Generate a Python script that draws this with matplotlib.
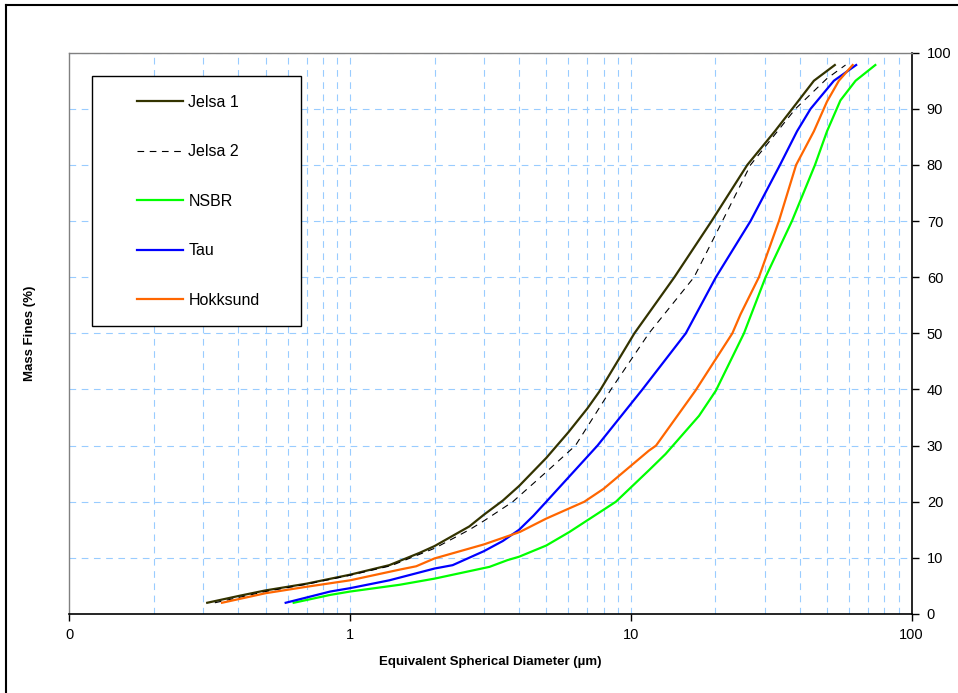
import matplotlib
matplotlib.use("Agg")
import matplotlib.pyplot as plt
from matplotlib.patches import Rectangle
from matplotlib.lines import Line2D
from matplotlib.ticker import FixedLocator, FixedFormatter, NullLocator

plt.rcParams['font.family'] = ['Liberation Sans', 'DejaVu Sans']

# particle size distributions (diameter in um, cumulative mass fines in %)
jelsa1_x = [0.31, 0.4, 0.5, 0.7, 1.0, 1.38, 1.77, 2.0, 2.66, 3.0, 3.5, 4.0, 5.0, 6.0,
            7.0, 7.72, 10.3, 14.3, 19.4, 26.0, 32.6, 37.6, 44.9, 53.3]
jelsa1_y = [2.0, 3.2, 4.2, 5.4, 7.0, 8.7, 10.9, 12.1, 15.6, 17.7, 20.2, 22.8, 27.8, 32.4,
            36.6, 39.6, 50.0, 60.0, 70.0, 80.0, 86.0, 90.0, 95.0, 97.8]

jelsa2_x = [0.33, 0.5, 0.7, 1.0, 1.4, 2.0, 2.66, 3.0, 3.8, 5.0, 6.35, 8.5, 11.6, 16.8, 21.2,
            26.7, 38.6, 50.0, 58.2]
jelsa2_y = [2.0, 4.0, 5.3, 6.9, 8.6, 11.7, 15.0, 16.6, 20.0, 25.3, 30.0, 40.0, 50.0, 60.0, 70.0,
            80.0, 90.0, 95.4, 97.8]

nsbr_x = [0.63, 0.85, 1.0, 1.5, 2.0, 3.14, 3.64, 4.0, 5.0, 6.04, 8.85, 11.6, 13.3, 17.5, 20.1,
          25.3, 30.2, 37.5, 45.3, 50.0, 55.8, 63.2, 74.3]
nsbr_y = [2.0, 3.4, 4.0, 5.2, 6.3, 8.4, 9.6, 10.2, 12.2, 14.6, 20.0, 25.6, 28.5, 35.3, 39.8,
          50.0, 60.0, 70.0, 80.0, 86.0, 91.5, 95.0, 97.8]

tau_x = [0.59, 0.85, 1.0, 1.38, 2.0, 2.32, 3.0, 3.5, 4.0, 4.5, 5.0, 7.61, 11.0, 15.7, 20.1, 26.7,
         34.0, 39.1, 43.7, 52.9, 63.5]
tau_y = [2.0, 4.0, 4.6, 6.0, 8.1, 8.7, 11.2, 13.0, 15.0, 17.5, 20.0, 30.0, 40.0, 50.0, 60.0, 70.0,
         80.0, 86.0, 90.0, 95.0, 97.8]

hokk_x = [0.35, 0.5, 0.7, 1.0, 1.5, 1.72, 2.0, 3.0, 4.02, 5.0, 6.83, 8.0, 11.6, 12.3, 17.0,
          23.0, 24.6, 28.6, 33.7, 38.8, 44.9, 50.0, 55.1, 61.7]
hokk_y = [2.0, 3.7, 4.85, 6.0, 7.9, 8.5, 9.9, 12.4, 14.6, 17.0, 20.0, 22.3, 29.1, 30.0, 39.8,
          50.0, 53.4, 60.0, 70.0, 80.0, 86.0, 91.3, 95.0, 97.8]

x_tick_pos = [0.1, 1, 10, 100]
x_tick_labels = ['0', '1', '10', '100']
y_ticks = list(range(0, 101, 10))

fig = plt.figure(figsize=(9.58, 6.93), dpi=100)
ax = fig.add_axes([0.0723, 0.114, 0.8792, 0.810])

grid_col = '#99ccff'
ax.plot(jelsa1_x, jelsa1_y, color='#333300', lw=1.6, label='Jelsa 1', zorder=3)
ax.plot(jelsa2_x, jelsa2_y, color='black', lw=0.8, dashes=(6, 5), label='Jelsa 2', zorder=3)
ax.plot(nsbr_x, nsbr_y, color='#00ff00', lw=1.6, label='NSBR', zorder=3)
ax.plot(tau_x, tau_y, color='#0000ff', lw=1.6, label='Tau', zorder=3)
ax.plot(hokk_x, hokk_y, color='#ff6600', lw=1.6, label='Hokksund', zorder=3)

ax.set_xscale('log')
ax.set_xlim(0.1, 100)
ax.set_ylim(0, 100)

ax.xaxis.set_major_locator(FixedLocator(x_tick_pos))
ax.xaxis.set_major_formatter(FixedFormatter(x_tick_labels))
ax.xaxis.set_minor_locator(NullLocator())
ax.set_yticks(y_ticks)

# gridlines on every decade step
for d in [0.1, 1, 10]:
    for k in range(1, 10):
        v = d * k
        if v > 0.1:
            ax.axvline(v, color=grid_col, lw=0.8, dashes=(6, 5), zorder=1)
for v in y_ticks[1:]:
    ax.axhline(v, color=grid_col, lw=0.8, dashes=(6, 5), zorder=1)

ax.yaxis.tick_right()
ax.yaxis.set_label_position('left')
ax.tick_params(axis='both', direction='out', length=5, width=1, labelsize=10.5, colors='black')
ax.tick_params(axis='x', pad=5)
ax.tick_params(axis='y', pad=6)

for s in ['top', 'left']:
    ax.spines[s].set_color('#808080')
    ax.spines[s].set_linewidth(1)
for s in ['bottom', 'right']:
    ax.spines[s].set_color('black')
    ax.spines[s].set_linewidth(1.2)

ax.set_xlabel('Equivalent Spherical Diameter (µm)', fontsize=9.5, fontweight='bold', labelpad=10)
ax.set_ylabel('Mass Fines (%)', fontsize=9.5, fontweight='bold', labelpad=24)

# legend box (Excel style: large frame, entries spread out)
ax.add_patch(Rectangle((0.0273, 0.5133), 0.2476, 0.4458, transform=ax.transAxes,
                       facecolor='white', edgecolor='black', lw=1, zorder=4))
leg = ax.legend(loc='upper left', bbox_to_anchor=(0.0806, 0.925), frameon=False,
                fontsize=11.5, labelspacing=2.16, handlelength=2.9, handletextpad=0.3,
                borderpad=0, borderaxespad=0)
leg.set_zorder(5)

# outer chart border
fig.add_artist(Line2D([6 / 958, 1], [1 - 5 / 693, 1 - 5 / 693], color='black', lw=1.5,
                      transform=fig.transFigure))
fig.add_artist(Line2D([6 / 958, 6 / 958], [0, 1 - 5 / 693], color='black', lw=1.5,
                      transform=fig.transFigure))

fig.savefig('out.png', dpi=100)
